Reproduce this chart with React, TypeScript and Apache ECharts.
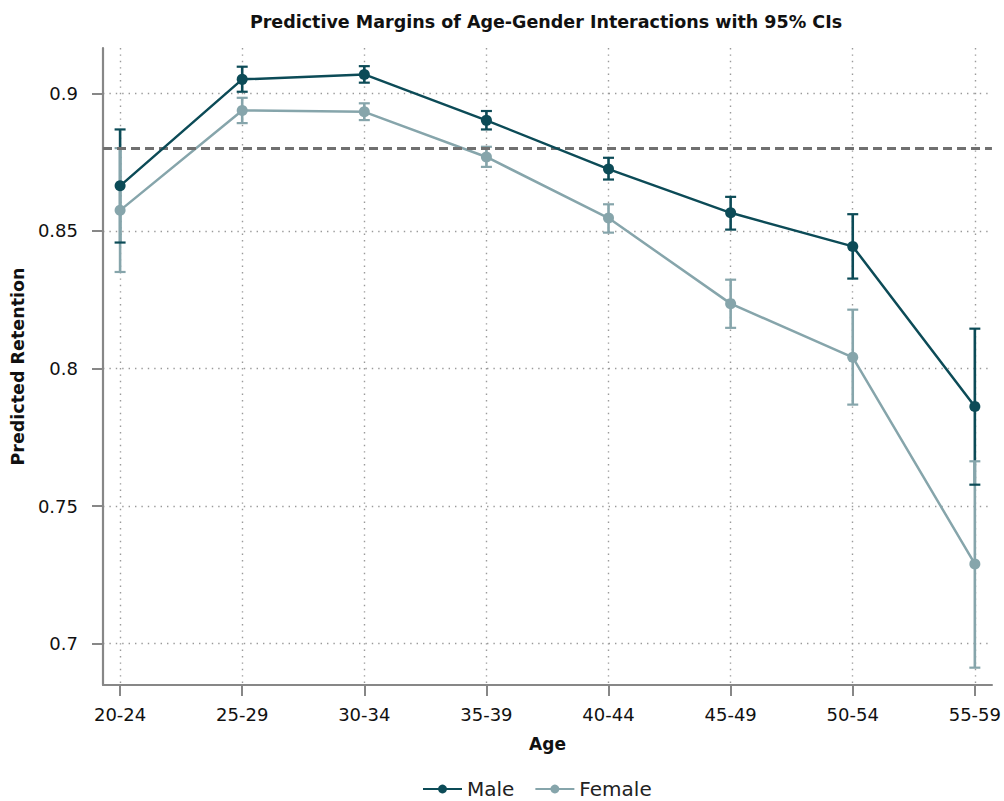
import React, { useEffect, useRef } from "react";
import * as echarts from "echarts";

// Age groups on the x axis
const ages = ["20-24", "25-29", "30-34", "35-39", "40-44", "45-49", "50-54", "55-59"];

// Predictive margins and 95% confidence bounds
const maleMean = [0.8664, 0.9051, 0.9069, 0.8902, 0.8725, 0.8566, 0.8444, 0.7862];
const maleLow = [0.8458, 0.9006, 0.9039, 0.8869, 0.8687, 0.8505, 0.8327, 0.7578];
const maleHigh = [0.8869, 0.9097, 0.9099, 0.8936, 0.8766, 0.8624, 0.8561, 0.8145];

const femaleMean = [0.8575, 0.8938, 0.8933, 0.8769, 0.8547, 0.8236, 0.8041, 0.729];
const femaleLow = [0.8351, 0.8892, 0.8903, 0.8733, 0.8494, 0.8148, 0.7869, 0.6913];
const femaleHigh = [0.8801, 0.8984, 0.8964, 0.8806, 0.8597, 0.8323, 0.8214, 0.7663];

// Overall reference level (dashed horizontal line)
const referenceLevel = 0.88;

const yTicks = [0.7, 0.75, 0.8, 0.85, 0.9];

const MALE = "#0c4b57";
const FEMALE = "#86a5ab";
const AXIS = "#878787";
const GRID = "#9a9a9a";
const FONT = "DejaVu Sans";

const xIdx = ages.map((_, i) => i);

function barSeries(name: string, low: number[], high: number[], color: string) {
  return {
    type: "custom",
    name: name + " CI",
    z: 2,
    silent: true,
    encode: { x: 0, y: [1, 2] },
    data: low.map((lo, i) => [i, lo, high[i]]),
    renderItem: (_p: any, api: any) => {
      const a = api.coord([api.value(0), api.value(1)]);
      const b = api.coord([api.value(0), api.value(2)]);
      return {
        type: "line",
        shape: { x1: a[0], y1: a[1], x2: b[0], y2: b[1] },
        style: { stroke: color, lineWidth: 2.6 },
      };
    },
  };
}

function capSeries(name: string, low: number[], high: number[], color: string) {
  return {
    type: "custom",
    name: name + " caps",
    z: 3,
    silent: true,
    encode: { x: 0, y: [1, 2] },
    data: low.map((lo, i) => [i, lo, high[i]]),
    renderItem: (_p: any, api: any) => {
      const a = api.coord([api.value(0), api.value(1)]);
      const b = api.coord([api.value(0), api.value(2)]);
      const hw = 5.5;
      const st = { stroke: color, lineWidth: 2.2 };
      return {
        type: "group",
        children: [
          { type: "line", shape: { x1: a[0] - hw, y1: a[1], x2: a[0] + hw, y2: a[1] }, style: st },
          { type: "line", shape: { x1: b[0] - hw, y1: b[1], x2: b[0] + hw, y2: b[1] }, style: st },
        ],
      };
    },
  };
}

export default function App() {
  const ref = useRef<HTMLDivElement>(null);

  useEffect(() => {
    if (!ref.current) return;
    const chart = echarts.init(ref.current, undefined, { renderer: "svg" });
    chart.setOption({
      animation: false,
      backgroundColor: "#ffffff",
      textStyle: { fontFamily: FONT },
      title: {
        text: "Predictive Margins of Age-Gender Interactions with 95% CIs",
        left: 541,
        top: 8,
        textAlign: "center",
        textStyle: { fontFamily: FONT, fontWeight: "bold", fontSize: 17.5, color: "#111" },
      },
      legend: {
        data: ["Male", "Female"],
        left: 417,
        top: 774,
        itemWidth: 39,
        itemHeight: 11,
        itemGap: 20,
        textStyle: { fontFamily: FONT, fontSize: 20, color: "#222" },
      },
      grid: { left: 103, right: 12, top: 48, bottom: 116, containLabel: false },
      xAxis: {
        type: "value",
        min: -0.14,
        max: 7.14,
        name: "Age",
        nameLocation: "middle",
        nameGap: 50,
        nameTextStyle: { fontFamily: FONT, fontWeight: "bold", fontSize: 17, color: "#111" },
        axisLine: { show: true, onZero: false, lineStyle: { color: AXIS, width: 2.2 } },
        axisTick: { show: true, length: 11, customValues: xIdx, lineStyle: { color: AXIS, width: 2 } },
        axisLabel: {
          customValues: xIdx,
          margin: 20,
          fontFamily: FONT,
          fontSize: 18,
          color: "#111",
          formatter: (v: number) => ages[Math.round(v)] ?? "",
        },
        splitLine: { show: true, lineStyle: { color: GRID, width: 1.4, type: [1.4, 5] } },
      },
      yAxis: {
        type: "value",
        min: 0.685,
        max: 0.9165,
        name: "Predicted Retention",
        nameLocation: "middle",
        nameGap: 76,
        nameTextStyle: { fontFamily: FONT, fontWeight: "bold", fontSize: 17.5, color: "#111" },
        axisLine: { show: true, onZero: false, lineStyle: { color: AXIS, width: 2.2 } },
        axisTick: { show: true, length: 11, customValues: yTicks, lineStyle: { color: AXIS, width: 2 } },
        axisLabel: {
          customValues: yTicks,
          margin: 25,
          fontFamily: FONT,
          fontSize: 18,
          color: "#111",
          formatter: (v: number) => String(v),
        },
        splitLine: { show: true, lineStyle: { color: GRID, width: 1.4, type: [1.4, 5] } },
      },
      series: [
        barSeries("Male", maleLow, maleHigh, MALE),
        barSeries("Female", femaleLow, femaleHigh, FEMALE),
        capSeries("Male", maleLow, maleHigh, MALE),
        capSeries("Female", femaleLow, femaleHigh, FEMALE),
        {
          type: "line",
          name: "Male",
          z: 5,
          data: maleMean.map((v, i) => [i, v]),
          symbol: "circle",
          symbolSize: 11,
          itemStyle: { color: MALE },
          lineStyle: { color: MALE, width: 2.5 },
          markLine: {
            silent: true,
            symbol: "none",
            label: { show: false },
            lineStyle: { color: "#707070", width: 2.8, type: [9, 5] },
            data: [{ yAxis: referenceLevel }],
          },
        },
        {
          type: "line",
          name: "Female",
          z: 4,
          data: femaleMean.map((v, i) => [i, v]),
          symbol: "circle",
          symbolSize: 11,
          itemStyle: { color: FEMALE },
          lineStyle: { color: FEMALE, width: 2.5 },
        },
      ],
    });
    return () => chart.dispose();
  }, []);

  return (
    <div
      ref={ref}
      style={{ position: "fixed", left: 0, top: 0, width: 1004, height: 801, background: "#fff" }}
    />
  );
}
